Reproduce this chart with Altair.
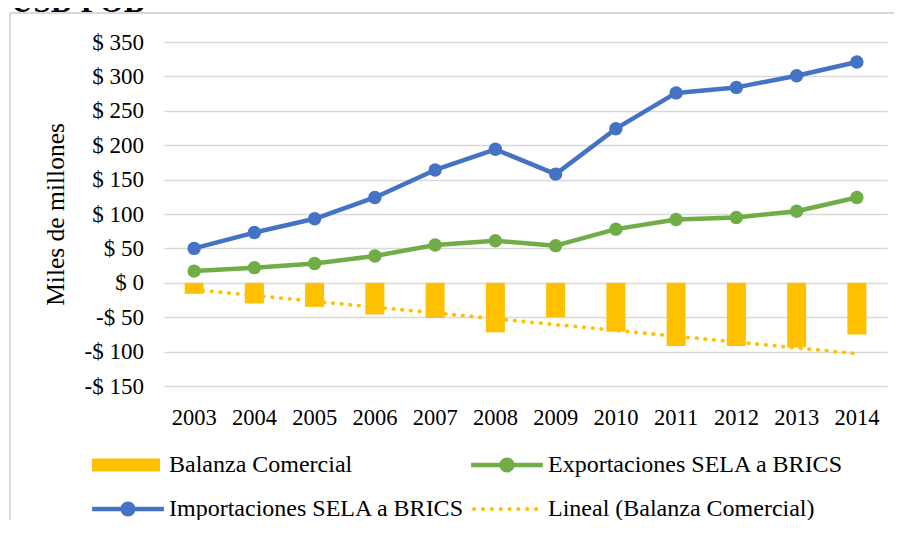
import altair as alt
import pandas as pd

# ---------------- data ----------------
years = ["2003", "2004", "2005", "2006", "2007", "2008",
         "2009", "2010", "2011", "2012", "2013", "2014"]
importaciones = [50, 73, 93, 124, 164, 194, 158, 224, 276, 284, 301, 321]
exportaciones = [17, 22, 28, 39, 55, 61, 54, 78, 92, 95, 104, 124]
balanza = [-16, -30, -35, -46, -51, -72, -50, -71, -92, -92, -94, -75]
trend_years = ["2003", "2014"]
trend_values = [-10, -103]

series_names = ["Balanza Comercial", "Exportaciones SELA a BRICS",
                "Importaciones SELA a BRICS", "Lineal (Balanza Comercial)"]
series_colors = ["#FFC000", "#70AD47", "#4472C4", "#FFC000"]

y_ticks = [-150, -100, -50, 0, 50, 100, 150, 200, 250, 300, 350]
y_tick_labels = ["-$ 150", "-$ 100", "-$ 50", "$ 0", "$ 50", "$ 100",
                 "$ 150", "$ 200", "$ 250", "$ 300", "$ 350"]

title_text = "USD FOB"
y_title = "Miles de millones"

# ---------------- table ----------------
rows = []
for y, v in zip(years, balanza):
    rows.append({"year": y, "series": series_names[0], "value": v})
for y, v in zip(years, exportaciones):
    rows.append({"year": y, "series": series_names[1], "value": v})
for y, v in zip(years, importaciones):
    rows.append({"year": y, "series": series_names[2], "value": v})
for y, v in zip(trend_years, trend_values):
    rows.append({"year": y, "series": series_names[3], "value": v})
df = pd.DataFrame(rows)

FONT = "Liberation Serif"
W, H = 723, 344

label_expr = "[%s][indexof([%s], datum.value)]" % (
    ", ".join("'%s'" % s for s in y_tick_labels),
    ", ".join(str(t) for t in y_ticks),
)


def by_series(values):
    def lit(v):
        return "'%s'" % v if isinstance(v, str) else str(v)
    expr = lit(values[-1])
    for name, val in reversed(list(zip(series_names[:-1], values[:-1]))):
        expr = "datum.value === '%s' ? %s : (%s)" % (name, lit(val), expr)
    return expr


# legend symbol outlines, filled shapes (unit = sqrt(symbolSize)/2 = 6 px)
def circle(cx, r):
    return "M%.3f,0A%.3f,%.3f 0 1,1 %.3f,0A%.3f,%.3f 0 1,1 %.3f,0Z" % (
        cx - r, r, r, cx + r, r, r, cx - r)


rect_path = "M-1,-1.08H10.33V1.08H-1Z"
marker_path = "M-0.975,-0.375H10.975V0.375H-0.975Z" + circle(5.0, 1.25)
dot_path = "".join(circle(-0.48 + i * 1.476, 0.34) for i in range(8))

shape_expr = by_series([rect_path, marker_path, marker_path, dot_path])
color_expr = by_series(series_colors)

legend = alt.Legend(
    title=None,
    orient="none",
    legendX=-78,
    legendY=411,
    direction="horizontal",
    columns=2,
    columnPadding=-3,
    rowPadding=20,
    padding=0,
    symbolSize=144,
    symbolStrokeWidth=0,
    symbolOpacity=1,
    symbolType={"expr": shape_expr},
    symbolFillColor={"expr": color_expr},
    symbolStrokeColor={"expr": color_expr},
    labelOffset=59,
    labelLimit=600,
    labelFont=FONT,
    labelFontSize=24,
    labelColor="#000000",
)

x_enc = alt.X(
    "year:N",
    sort=years,
    scale=alt.Scale(type="band", domain=years, paddingInner=0, paddingOuter=0),
    axis=alt.Axis(
        title=None, domain=False, ticks=False, tickSize=0, grid=False,
        labelAngle=0, labelPadding=20, labelFont=FONT, labelFontSize=22.5,
        labelColor="#000000",
    ),
)
y_enc = alt.Y(
    "value:Q",
    scale=alt.Scale(domain=[-150, 350], nice=False, zero=False),
    axis=alt.Axis(
        title=y_title, values=y_ticks, labelExpr=label_expr,
        domain=False, ticks=False, tickSize=0, grid=True,
        gridColor="#d9d9d9", gridWidth=1.3,
        labelPadding=20.5, labelFont=FONT, labelFontSize=23,
        labelColor="#000000",
        titleFont=FONT, titleFontSize=25.5, titleFontWeight="normal",
        titleColor="#000000", titleAngle=270, titleAlign="center",
        titleBaseline="alphabetic", titleX=-100.5, titleY=H / 2,
    ),
)
color_enc = alt.Color(
    "series:N",
    scale=alt.Scale(domain=series_names, range=series_colors),
    legend=legend,
)

base = alt.Chart(df)

bars = base.transform_filter(alt.datum.series == series_names[0]).mark_bar(
    size=19
).encode(x=x_enc, y=y_enc, color=color_enc)

trend = base.transform_filter(alt.datum.series == series_names[3]).mark_line(
    strokeWidth=3.8, strokeDash=[0.5, 8.2], strokeCap="round"
).encode(x=x_enc, y=y_enc, color=color_enc)

exp_line = base.transform_filter(alt.datum.series == series_names[1]).mark_line(
    strokeWidth=4.5, strokeJoin="round", strokeCap="round",
    point=alt.OverlayMarkDef(filled=True, size=180, strokeWidth=0, opacity=1),
).encode(x=x_enc, y=y_enc, color=color_enc)

imp_line = base.transform_filter(alt.datum.series == series_names[2]).mark_line(
    strokeWidth=4.5, strokeJoin="round", strokeCap="round",
    point=alt.OverlayMarkDef(filled=True, size=180, strokeWidth=0, opacity=1),
).encode(x=x_enc, y=y_enc, color=color_enc)

one = pd.DataFrame({"k": [0]})
frame_top = alt.Chart(one).mark_rule(color="#d9d9d9", strokeWidth=1.8).encode(
    x=alt.value(-154), x2=alt.value(730), y=alt.value(-29)
)
frame_left = alt.Chart(one).mark_rule(color="#d9d9d9", strokeWidth=1.8).encode(
    x=alt.value(-154), y=alt.value(-29), y2=alt.value(480)
)
top_title = alt.Chart(one).mark_text(
    text=title_text, font=FONT, fontSize=31, fontWeight="bold",
    align="left", baseline="alphabetic", color="#000000",
).encode(x=alt.value(-153), y=alt.value(-30.5))

chart = alt.layer(
    frame_top, frame_left, top_title, bars, trend, exp_line, imp_line
).properties(
    width=W, height=H,
    autosize=alt.AutoSizeParams(type="none"),
    padding={"left": 156, "top": 34, "right": 7, "bottom": 134},
    background="#ffffff",
).configure_view(stroke=None)

chart.save("out.html", embed_options={"renderer": "svg", "actions": False})
